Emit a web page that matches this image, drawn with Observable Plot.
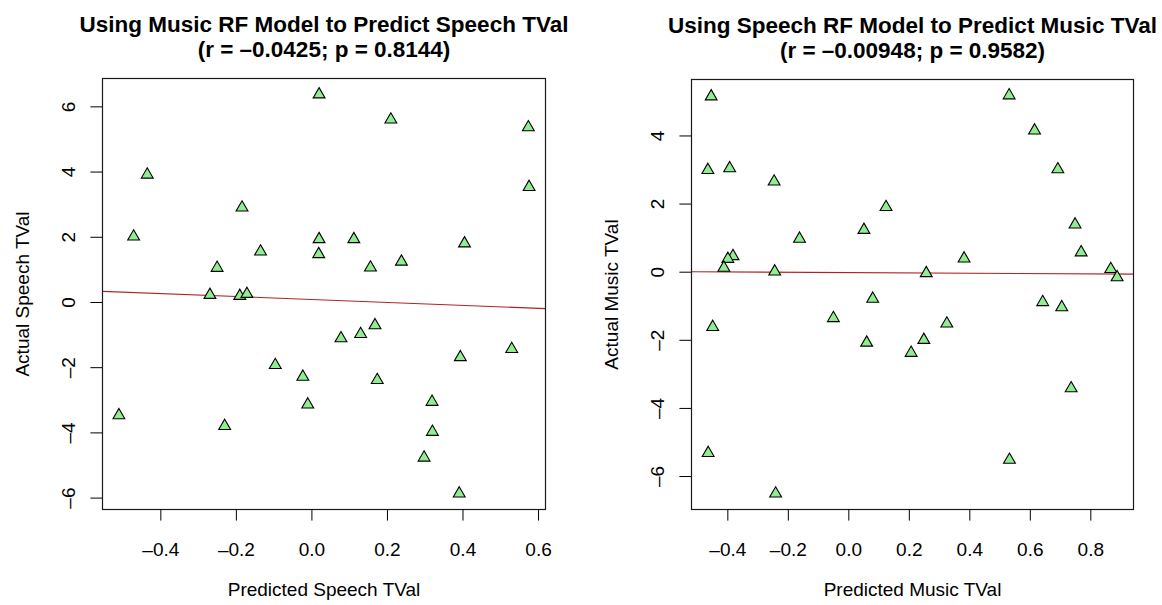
<!DOCTYPE html>
<html>
<head>
<meta charset="utf-8">
<script src="https://cdn.jsdelivr.net/npm/d3@7"></script>
<script src="https://cdn.jsdelivr.net/npm/@observablehq/plot@0.6"></script>
<style>
  body { margin: 0; background: #fff; }
  #wrap { display: flex; width: 1162px; height: 605px; overflow: hidden; }
</style>
</head>
<body>
<div id="wrap"></div>
<script>
// ---------- Left panel: Music RF model predicting Speech TVal ----------
const leftTitle = ["Using Music RF Model to Predict Speech TVal", "(r = –0.0425; p = 0.8144)"];
const leftXLabel = "Predicted Speech TVal";
const leftYLabel = "Actual Speech TVal";
const leftPredicted = [-0.436, -0.472, -0.185, -0.136, -0.251, -0.270, -0.191, -0.172, -0.511, -0.231, -0.097,
  -0.024, -0.011, 0.077, 0.129, 0.167, 0.173, 0.393, 0.529, 0.318, 0.319, 0.297, 0.390,
  0.019, 0.209, 0.573, 0.575, 0.019, 0.111, 0.018, 0.404, 0.155, 0.237];
const leftActual = [3.92, 2.02, 2.91, 1.56, 1.06, 0.23, 0.20, 0.26, -3.46, -3.79, -1.92,
  -2.28, -3.13, -1.10, -0.97, -0.70, -2.38, -1.68, -1.43, -3.05, -3.97, -4.76, -5.86,
  6.38, 5.61, 5.37, 3.54, 1.94, 1.94, 1.48, 1.81, 1.07, 1.25];
const leftXTicks = [-0.4, -0.2, 0.0, 0.2, 0.4, 0.6];
const leftYTicks = [-6, -4, -2, 0, 2, 4, 6];

// ---------- Right panel: Speech RF model predicting Music TVal ----------
const rightTitle = ["Using Speech RF Model to Predict Music TVal", "(r = –0.00948; p = 0.9582)"];
const rightXLabel = "Predicted Music TVal";
const rightYLabel = "Actual Music TVal";
const rightPredicted = [-0.455, -0.466, -0.394, -0.247, -0.163, 0.050, 0.123, -0.383, -0.400, -0.413, -0.245,
  0.079, -0.450, -0.051, 0.059, -0.465, -0.242, 0.530, 0.614, 0.691, 0.748, 0.768, 0.381,
  0.256, 0.866, 0.887, 0.641, 0.704, 0.324, 0.248, 0.206, 0.735, 0.531];
const rightActual = [5.16, 3.00, 3.05, 2.66, 0.98, 1.24, 1.91, 0.47, 0.39, 0.13, 0.02,
  -0.78, -1.61, -1.35, -2.07, -5.31, -6.50, 5.19, 4.16, 3.02, 1.40, 0.58, 0.40,
  -0.03, 0.09, -0.15, -0.88, -1.03, -1.51, -1.99, -2.37, -3.41, -5.51];
const rightXTicks = [-0.4, -0.2, 0.0, 0.2, 0.4, 0.6, 0.8];
const rightYTicks = [-6, -4, -2, 0, 2, 4];

const FONT = "'Liberation Sans', Arial, Helvetica, sans-serif";
const dash = s => s.replace("−", "–");

function panel({x, y, title, xLabel, yLabel, xTicks, yTicks, margins}) {
  // R-style 4% axis expansion
  const ext = v => { const [a, b] = d3.extent(v); const p = 0.04 * (b - a); return [a - p, b + p]; };
  const xd = ext(x), yd = ext(y);
  // least-squares fit (abline(lm(y ~ x)))
  const mx = d3.mean(x), my = d3.mean(y);
  const sxy = d3.sum(x, (v, i) => (v - mx) * (y[i] - my));
  const sxx = d3.sum(x, v => (v - mx) ** 2);
  const slope = sxy / sxx, intercept = my - slope * mx;
  const fit = xd.map(v => ({x: v, y: intercept + slope * v}));
  const pts = x.map((v, i) => ({x: v, y: y[i]}));
  return Plot.plot({
    width: 581,
    height: 605,
    ...margins,
    style: {fontFamily: FONT, fontSize: "19px", color: "black", background: "white", overflow: "visible"},
    x: {domain: xd},
    y: {domain: yd},
    marks: [
      Plot.line(fit, {x: "x", y: "y", stroke: "#b22222", strokeWidth: 1.1}),
      Plot.dot(pts, {x: "x", y: "y", symbol: "triangle", r: 4.4, fill: "#90ee90", stroke: "black", strokeWidth: 1.1}),
      Plot.frame({stroke: "#1a1a1a", strokeWidth: 1.2}),
      Plot.axisX({ticks: xTicks, tickSize: 11.6, tickPadding: 21, label: null,
        tickFormat: d => dash(d3.format(".1f")(d))}),
      Plot.axisY({ticks: yTicks, tickSize: 11.6, tickPadding: 16, tickRotate: -90, label: null,
        tickFormat: d => dash(d3.format("d")(d))}),
      Plot.text([title[0]], {text: d => d, frameAnchor: "top", dy: -47, lineAnchor: "bottom",
        fontSize: 22.5, fontWeight: "bold"}),
      Plot.text([title[1]], {text: d => d, frameAnchor: "top", dy: -22, lineAnchor: "bottom",
        fontSize: 22.5, fontWeight: "bold"}),
      Plot.text([xLabel], {text: d => d, frameAnchor: "bottom", dy: 86, lineAnchor: "bottom"}),
      Plot.text([yLabel], {text: d => d, frameAnchor: "left", textAnchor: "middle", dx: -74, rotate: -90, lineAnchor: "bottom"})
    ]
  });
}

const wrap = document.getElementById("wrap");
wrap.appendChild(panel({
  x: leftPredicted, y: leftActual, title: leftTitle, xLabel: leftXLabel, yLabel: leftYLabel,
  xTicks: leftXTicks, yTicks: leftYTicks,
  margins: {marginLeft: 102, marginRight: 36, marginTop: 78, marginBottom: 96}
}));
wrap.appendChild(panel({
  x: rightPredicted, y: rightActual, title: rightTitle, xLabel: rightXLabel, yLabel: rightYLabel,
  xTicks: rightXTicks, yTicks: rightYTicks,
  margins: {marginLeft: 110, marginRight: 29, marginTop: 79, marginBottom: 96}
}));
</script>
</body>
</html>
